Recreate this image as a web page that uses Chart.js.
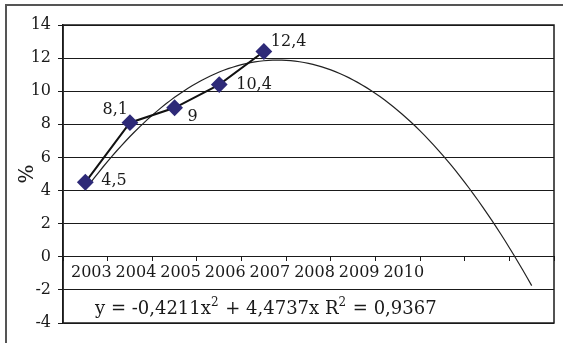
<!DOCTYPE html>
<html>
<head>
<meta charset="utf-8">
<script src="https://cdn.jsdelivr.net/npm/chart.js@4"></script>
<style>
    body { margin: 0; background: #fff; }
    #wrap { width: 563px; height: 343px; }
</style>
</head>
<body>
<div id="wrap"><canvas id="growthChart" width="563" height="343"></canvas></div>
<script>
// categories (the last three are empty forecast slots of the trendline)
const years = ["2003", "2004", "2005", "2006", "2007", "2008", "2009", "2010", "", "", ""];
const values = [4.5, 8.1, 9, 10.4, 12.4];
const valueLabels = ["4,5", "8,1", "9", "10,4", "12,4"];
// polynomial trendline as printed on the chart: y = a*x^2 + b*x
const trendCoef = [-0.4211, 4.4737];
// equation text, split where the superscript "2" goes
const trendParts = ["y = -0,4211x", "2", " + 4,4737x R", "2", " = 0,9367"];
const yTicks = [-4, -2, 0, 2, 4, 6, 8, 10, 12, 14];

const FONT = "'DejaVu Serif', 'Liberation Serif', serif";
const INK = "#1a1a1a";

const trendPoints = [];
for (let x = 1; x <= years.length + 0.001; x += 0.1) {
    trendPoints.push({ x: x, y: trendCoef[0] * x * x + trendCoef[1] * x });
}

const decorPlugin = {
    id: "decor",
    beforeDraw(chart) {
        const ctx = chart.ctx;
        ctx.save();
        ctx.strokeStyle = "#555";
        ctx.lineWidth = 2;
        ctx.beginPath();
        ctx.moveTo(6, 343);
        ctx.lineTo(6, 5);
        ctx.lineTo(563, 5);
        ctx.stroke();
        ctx.restore();
    },
    afterDraw(chart) {
        const ctx = chart.ctx;
        const area = chart.chartArea;
        ctx.save();
        ctx.strokeStyle = INK;
        ctx.lineWidth = 1.5;
        ctx.strokeRect(area.left, area.top, area.right - area.left, area.bottom - area.top);

        // point labels
        const offsets = [[16, -1, "left"], [-2, -13, "right"], [13, 9, "left"], [17, 0, "left"], [7, -10, "left"]];
        const meta = chart.getDatasetMeta(0);
        ctx.fillStyle = INK;
        ctx.font = "16px " + FONT;
        ctx.textBaseline = "middle";
        meta.data.forEach((pt, i) => {
            const o = offsets[i];
            ctx.textAlign = o[2];
            ctx.fillText(valueLabels[i], pt.x + o[0], pt.y + o[1]);
        });

        // trendline equation with raised "2"
        ctx.textAlign = "left";
        ctx.textBaseline = "alphabetic";
        let x = 95;
        trendParts.forEach((part, i) => {
            const sup = i % 2 === 1;
            ctx.font = (sup ? "12px " : "18px ") + FONT;
            ctx.fillText(part, x, sup ? 306 : 314);
            x += ctx.measureText(part).width + (sup ? 1 : 0);
        });
        ctx.restore();
    }
};

new Chart(document.getElementById("growthChart").getContext("2d"), {
    type: "line",
    data: {
        labels: years,
        datasets: [{
            data: values,
            borderColor: "#111",
            borderWidth: 2,
            pointStyle: "rectRot",
            pointRadius: 7,
            pointBackgroundColor: "#2e2a78",
            pointBorderColor: "#2e2a78",
            tension: 0,
            order: 1
        }, {
            data: trendPoints,
            xAxisID: "xt",
            borderColor: "#222",
            borderWidth: 1.2,
            pointRadius: 0,
            tension: 0,
            order: 2
        }]
    },
    options: {
        responsive: false,
        animation: false,
        layout: { padding: { left: 0, top: 25, right: 6, bottom: 20 } },
        plugins: { legend: { display: false }, tooltip: { enabled: false } },
        scales: {
            x: {
                type: "category",
                offset: true,
                position: { y: 0 },
                grid: { drawOnChartArea: false, offset: true, tickLength: 4, color: INK },
                border: { color: INK, width: 1 },
                ticks: { autoSkip: false, maxRotation: 0, padding: 2, labelOffset: 6, color: INK, font: { size: 16, family: FONT } }
            },
            xt: { type: "linear", display: false, min: 0.5, max: years.length + 0.5 },
            y: {
                min: -4,
                max: 14,
                afterBuildTicks: (scale) => { scale.ticks = yTicks.map(v => ({ value: v })); },
                afterFit: (scale) => { scale.width = 63; },
                grid: { color: INK, lineWidth: 1, tickLength: 5 },
                border: { color: INK, width: 1.5 },
                ticks: { padding: 7, color: INK, font: { size: 16, family: FONT } },
                title: { display: true, text: "%", color: INK, font: { size: 20, family: FONT }, padding: { top: 16, bottom: 0 } }
            }
        }
    },
    plugins: [decorPlugin]
});
</script>
</body>
</html>
